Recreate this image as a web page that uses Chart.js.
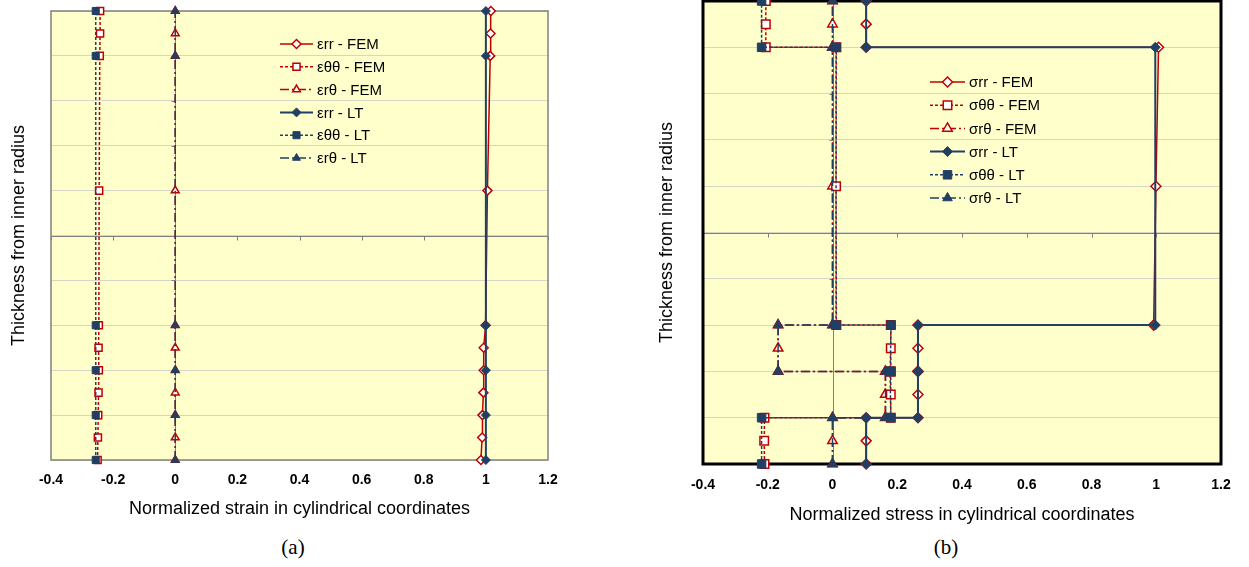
<!DOCTYPE html>
<html>
<head>
<meta charset="utf-8">
<script src="https://cdn.jsdelivr.net/npm/chart.js@4.4.1/dist/chart.umd.min.js"></script>
<style>
    html, body { margin: 0; padding: 0; background: #fff; }
    body { width: 1249px; height: 567px; position: relative; overflow: hidden; }
    canvas { position: absolute; }
    #chartA { left: 0; top: 0; }
    #chartB { left: 640px; top: -7px; }
    .cap {
        position: absolute; top: 535px;
        font-family: 'Liberation Serif', 'Times New Roman', serif;
        font-size: 21px; color: #000;
        transform: translateX(-50%);
    }
</style>
</head>
<body>
<canvas id="chartA" width="566" height="530"></canvas>
<canvas id="chartB" width="600" height="537"></canvas>
<div class="cap" style="left:293px">(a)</div>
<div class="cap" style="left:946px">(b)</div>

<script>
// ===== DATA =====
const X_TICKS = [-0.4, -0.2, 0, 0.2, 0.4, 0.6, 0.8, 1, 1.2];
const Y_TICKS = [0, 1, 2, 3, 4, 5, 6, 7, 8, 9, 10];

// (a) strain - FEM points at layer faces + mid-layers, LT at layer faces
const STRAIN_Y_FEM = [0, 0.5, 1, 1.5, 2, 2.5, 3, 6, 9, 9.5, 10];
const EPS_RR_FEM   = [0.984, 0.988, 0.989, 0.992, 0.993, 0.993, 0.999, 1.005, 1.014, 1.015, 1.016];
const EPS_TT_FEM   = [-0.250, -0.249, -0.248, -0.247, -0.246, -0.247, -0.246, -0.245, -0.243, -0.242, -0.242];
const EPS_RT_FEM   = [0, 0, 0, 0, 0, 0, 0, 0, 0, 0, 0];

const STRAIN_Y_LT = [0, 1, 2, 3, 9, 10];
const EPS_RR_LT   = [1.0, 1.0, 1.0, 1.0, 1.0, 1.0];
const EPS_TT_LT   = [-0.256, -0.256, -0.256, -0.256, -0.256, -0.256];
const EPS_RT_LT   = [0, 0, 0, 0, 0, 0];

// (b) stress - jumps at layer interfaces
const STRESS_Y_FEM = [0, 0.5, 1, 1, 1.5, 2, 2, 2.5, 3, 3, 6, 9, 9, 9.5, 10];
const SIG_RR_FEM   = [0.104, 0.104, 0.104, 0.264, 0.264, 0.264, 0.264, 0.264, 0.264, 0.992, 0.999, 1.007, 0.104, 0.104, 0.104];
const SIG_TT_FEM   = [-0.210, -0.211, -0.210, 0.180, 0.180, 0.180, 0.180, 0.180, 0.180, 0.012, 0.011, 0.012, -0.206, -0.206, -0.206];
const SIG_RT_FEM   = [0, 0, 0, 0.163, 0.163, 0.163, -0.168, -0.168, -0.168, 0, 0, 0, 0, 0, 0];

const STRESS_Y_LT = [0, 1, 1, 2, 2, 3, 3, 9, 9, 10];
const SIG_RR_LT   = [0.104, 0.104, 0.264, 0.264, 0.264, 0.264, 0.997, 0.997, 0.104, 0.104];
const SIG_TT_LT   = [-0.219, -0.219, 0.180, 0.178, 0.178, 0.181, 0.011, 0.011, -0.219, -0.219];
const SIG_RT_LT   = [0, 0, 0.164, 0.164, -0.168, -0.168, 0, 0, 0, 0];

// ===== STYLE =====
const RED = '#c00000';
const NAVY = '#213f63';
const PLOT_BG = '#ffffcc';
const DASH_TT = [3, 2];
const DASH_RT = [9, 3, 2, 3];
const SANS = "'Liberation Sans', Arial, sans-serif";

function series(label, xs, ys, color, dash, style, hollow, r, lw) {
    return {
        label,
        data: xs.map((x, i) => ({ x, y: ys[i] })),
        showLine: true,
        borderColor: color,
        borderWidth: lw,
        borderDash: dash,
        pointStyle: style,
        pointRadius: r,
        pointHoverRadius: r,
        pointBackgroundColor: hollow ? '#fff' : color,
        pointBorderColor: color,
        pointBorderWidth: hollow ? 1.5 : 1,
        order: hollow ? 1 : 0,   // LT drawn over FEM
        clip: false,
        tension: 0
    };
}

// plot background, frame, axes crossing at (0, 5)
const framePlugin = {
    id: 'frame',
    beforeDraw(chart, args, opts) {
        const { ctx, chartArea: a } = chart;
        ctx.save();
        ctx.fillStyle = PLOT_BG;
        ctx.fillRect(a.left, a.top, a.right - a.left, a.bottom - a.top);
        ctx.restore();
    },
    beforeDatasetsDraw(chart, args, opts) {
        const { ctx, chartArea: a, scales: { x, y } } = chart;
        ctx.save();
        ctx.strokeStyle = '#7f7f7f';
        ctx.lineWidth = 1;
        const ym = Math.round(y.getPixelForValue(5)) + 0.5;
        const x0 = Math.round(x.getPixelForValue(0)) + 0.5;
        ctx.beginPath();
        ctx.moveTo(a.left, ym); ctx.lineTo(a.right, ym);
        X_TICKS.forEach(v => {
            const px = Math.round(x.getPixelForValue(v)) + 0.5;
            ctx.moveTo(px, ym); ctx.lineTo(px, ym + 4);
        });
        ctx.moveTo(x0, a.top); ctx.lineTo(x0, a.bottom);
        Y_TICKS.forEach(v => {
            const py = Math.round(y.getPixelForValue(v)) + 0.5;
            ctx.moveTo(x0 - 4, py); ctx.lineTo(x0, py);
        });
        ctx.stroke();
        ctx.strokeStyle = opts.borderColor;
        ctx.lineWidth = opts.borderWidth;
        ctx.strokeRect(a.left, a.top, a.right - a.left, a.bottom - a.top);
        ctx.restore();
    }
};

// legend inside the plot
const legendPlugin = {
    id: 'insideLegend',
    afterDatasetsDraw(chart, args, opts) {
        const { ctx } = chart;
        const sets = chart.data.datasets;
        ctx.save();
        ctx.font = `${opts.fontSize}px ${SANS}`;
        ctx.textBaseline = 'middle';
        sets.forEach((ds, i) => {
            const yy = opts.y + i * opts.gap;
            ctx.strokeStyle = ds.borderColor;
            ctx.lineWidth = ds.borderWidth;
            ctx.setLineDash(ds.borderDash);
            ctx.beginPath();
            ctx.moveTo(opts.x, yy); ctx.lineTo(opts.x + opts.len, yy);
            ctx.stroke();
            ctx.setLineDash([]);
            ctx.fillStyle = ds.pointBackgroundColor;
            ctx.strokeStyle = ds.pointBorderColor;
            ctx.lineWidth = ds.pointBorderWidth;
            Chart.helpers.drawPoint(ctx, {
                pointStyle: ds.pointStyle, radius: ds.pointRadius,
                rotation: 0, borderWidth: ds.pointBorderWidth
            }, opts.x + opts.len / 2, yy);
            ctx.fillStyle = '#000';
            ctx.fillText(ds.label, opts.x + opts.len + 4, yy + 1);
        });
        ctx.restore();
    }
};

function makeChart(id, datasets, cfg) {
    return new Chart(document.getElementById(id), {
        type: 'scatter',
        data: { datasets },
        plugins: [framePlugin, legendPlugin],
        options: {
            responsive: false,
            animation: false,
            events: [],
            layout: { padding: { left: 0, top: cfg.top, right: cfg.right, bottom: 0 } },
            plugins: {
                legend: { display: false },
                tooltip: { enabled: false },
                frame: { borderColor: cfg.frameColor, borderWidth: cfg.frameWidth },
                insideLegend: cfg.legend
            },
            scales: {
                x: {
                    type: 'linear',
                    min: -0.4, max: 1.2,
                    afterBuildTicks: s => { s.ticks = X_TICKS.map(v => ({ value: v })); },
                    afterFit: s => {
                        s.height = cfg.xHeight;
                        s.paddingLeft = 0;
                        s.paddingRight = 0;
                    },
                    grid: { display: false, drawTicks: false },
                    border: { display: false },
                    ticks: {
                        padding: cfg.tickPad,
                        color: '#000',
                        font: { family: SANS, size: 14, weight: 'bold' },
                        callback: v => String(Math.round(v * 10) / 10)
                    },
                    title: {
                        display: true,
                        text: cfg.xTitle,
                        color: '#000',
                        font: { family: SANS, size: 18 },
                        padding: { top: 0, bottom: cfg.xTitlePad }
                    }
                },
                y: {
                    type: 'linear',
                    min: 0, max: 10,
                    afterBuildTicks: s => { s.ticks = Y_TICKS.map(v => ({ value: v })); },
                    afterFit: s => {
                        s.width = cfg.yWidth;
                        s.paddingTop = 0;
                        s.paddingBottom = 0;
                    },
                    grid: { color: '#d6d6c6', lineWidth: 1, drawTicks: false },
                    border: { display: false },
                    ticks: { display: false },
                    title: {
                        display: true,
                        text: 'Thickness from inner radius',
                        color: '#000',
                        font: { family: SANS, size: 18 },
                        padding: { top: cfg.yTitlePad, bottom: 0 }
                    }
                }
            }
        }
    });
}

makeChart('chartA', [
    series('εrr - FEM', EPS_RR_FEM, STRAIN_Y_FEM, RED, [], 'rectRot', true, 4.5, 1.5),
    series('εθθ - FEM', EPS_TT_FEM, STRAIN_Y_FEM, RED, DASH_TT, 'rect', true, 5, 1.5),
    series('εrθ - FEM', EPS_RT_FEM, STRAIN_Y_FEM, RED, DASH_RT, 'triangle', true, 4.5, 1.5),
    series('εrr - LT', EPS_RR_LT, STRAIN_Y_LT, NAVY, [], 'rectRot', false, 4.5, 2),
    series('εθθ - LT', EPS_TT_LT, STRAIN_Y_LT, NAVY, DASH_TT, 'rect', false, 5, 1.5),
    series('εrθ - LT', EPS_RT_LT, STRAIN_Y_LT, NAVY, DASH_RT, 'triangle', false, 4.5, 1.5)
], {
    top: 11, right: 18, xHeight: 70, yWidth: 51,
    tickPad: 12, xTitlePad: 10, yTitlePad: 8,
    frameColor: '#808080', frameWidth: 1.5,
    xTitle: 'Normalized strain in cylindrical coordinates',
    legend: { x: 280, y: 44, gap: 22.8, len: 33, fontSize: 15 }
});

// canvas B sits 7px above the page so the plot top lands at y = 1
makeChart('chartB', [
    series('σrr - FEM', SIG_RR_FEM, STRESS_Y_FEM, RED, [], 'rectRot', true, 5, 1.5),
    series('σθθ - FEM', SIG_TT_FEM, STRESS_Y_FEM, RED, DASH_TT, 'rect', true, 6, 1.5),
    series('σrθ - FEM', SIG_RT_FEM, STRESS_Y_FEM, RED, DASH_RT, 'triangle', true, 5.5, 1.5),
    series('σrr - LT', SIG_RR_LT, STRESS_Y_LT, NAVY, [], 'rectRot', false, 5, 2),
    series('σθθ - LT', SIG_TT_LT, STRESS_Y_LT, NAVY, DASH_TT, 'rect', false, 6, 1.5),
    series('σrθ - LT', SIG_RT_LT, STRESS_Y_LT, NAVY, DASH_RT, 'triangle', false, 5.5, 1.5)
], {
    top: 8, right: 19, xHeight: 66, yWidth: 63,
    tickPad: 13, xTitlePad: 4, yTitlePad: 16,
    frameColor: '#000', frameWidth: 3,
    xTitle: 'Normalized stress in cylindrical coordinates',
    legend: { x: 290, y: 89, gap: 23.2, len: 35, fontSize: 15 }
});
</script>
</body>
</html>
